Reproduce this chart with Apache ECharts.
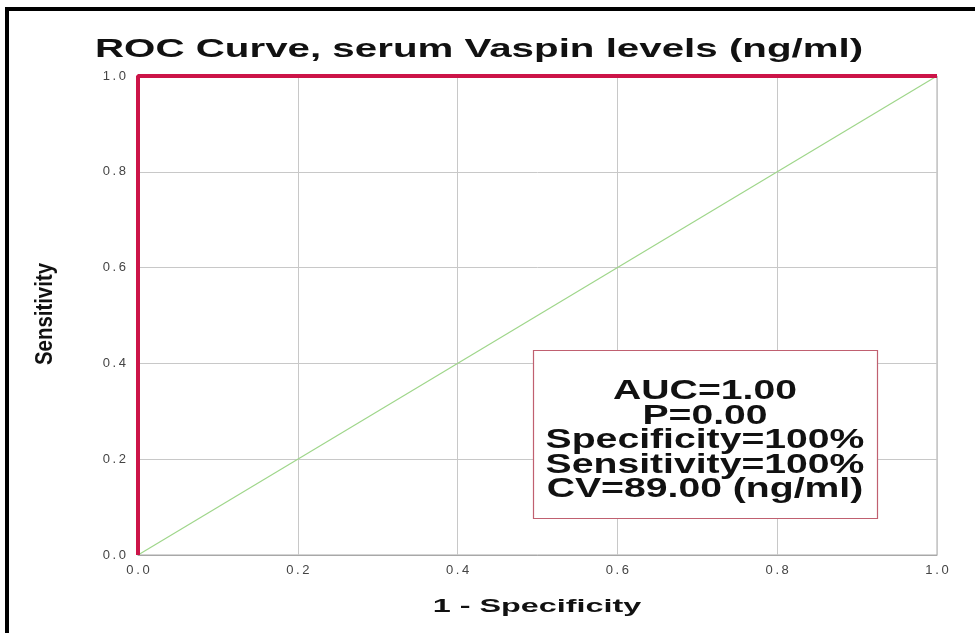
<!DOCTYPE html>
<html>
<head>
<meta charset="utf-8">
<script src="https://cdn.jsdelivr.net/npm/echarts@6/dist/echarts.min.js"></script>
<style>html,body{margin:0;padding:0;background:#fff}#c{width:975px;height:633px}</style>
</head>
<body>
<div id="c"></div>
<script>
var titleText = "ROC Curve, serum Vaspin levels (ng/ml)";
var xName = "1 - Specificity";
var yName = "Sensitivity";
var rocX = [0, 0, 1];
var rocY = [0, 1, 1];
var refX = [0, 1];
var refY = [0, 1];
var annotationLines = ["AUC=1.00", "P=0.00", "Specificity=100%", "Sensitivity=100%", "CV=89.00 (ng/ml)"];

var chart = echarts.init(document.getElementById('c'));
function pairs(xs, ys){ return xs.map(function(v,i){return [v, ys[i]];}); }
function tickFmt(v){ var s = v.toFixed(1); return s.charAt(0) + '\u2009.\u2009' + s.charAt(2); }
var axisCommon = {
  type: 'value', min: 0, max: 1, interval: 0.2,
  axisLine: {show: true, onZero: false, lineStyle: {color: '#a8a8a8', width: 1}},
  axisTick: {show: false},
  splitLine: {show: true, lineStyle: {color: '#c8c8c8', width: 1}},
  axisLabel: {color: '#444', fontFamily: 'Arial', fontSize: 13, formatter: tickFmt}
};
chart.setOption({
  animation: false,
  backgroundColor: '#fff',
  grid: {left: 138, right: 38, top: 76, bottom: 78, show: true, borderColor: '#a8a8a8', borderWidth: 1, containLabel: false},
  xAxis: Object.assign({}, axisCommon, {
    axisLabel: Object.assign({}, axisCommon.axisLabel, {margin: 9})
  }),
  yAxis: Object.assign({}, axisCommon, {
    axisLabel: Object.assign({}, axisCommon.axisLabel, {margin: 12})
  }),
  series: [
    {type: 'line', data: pairs(refX, refY), symbol: 'none', lineStyle: {color: '#9fd68a', width: 1.2}, z: 2},
    {type: 'line', data: pairs(rocX, rocY), symbol: 'none', lineStyle: {color: '#cc1448', width: 4}, z: 3}
  ],
  graphic: [
    {type: 'rect', shape: {x: 5, y: 7, width: 975, height: 4}, style: {fill: '#000'}},
    {type: 'rect', shape: {x: 5, y: 7, width: 4, height: 640}, style: {fill: '#000'}},
    {type: 'text', x: 95, y: 50, scaleX: 1.55, z: 100,
      style: {text: titleText, align: 'left', verticalAlign: 'middle', font: 'bold 26px Arial', fill: '#111'}},
    {type: 'text', x: 537, y: 607, scaleX: 1.75, z: 100,
      style: {text: xName, align: 'center', verticalAlign: 'middle', font: 'bold 18.5px Arial', fill: '#111'}},
    {type: 'text', x: 45, y: 314, rotation: Math.PI / 2, scaleX: 0.85, z: 100,
      style: {text: yName, align: 'center', verticalAlign: 'middle', font: 'bold 24px Arial', fill: '#111'}},
    {type: 'rect', shape: {x: 533.5, y: 350.5, width: 344, height: 168}, style: {fill: '#fff', stroke: '#c06070', lineWidth: 1.2}, z: 100},
    {type: 'text', x: 705, y: 441, scaleX: 1.45, z: 101,
      style: {text: annotationLines.join('\n'), align: 'center', verticalAlign: 'middle',
        font: 'bold 27px Arial', lineHeight: 24.5, fill: '#111'}}
  ]
});
</script>
</body>
</html>
